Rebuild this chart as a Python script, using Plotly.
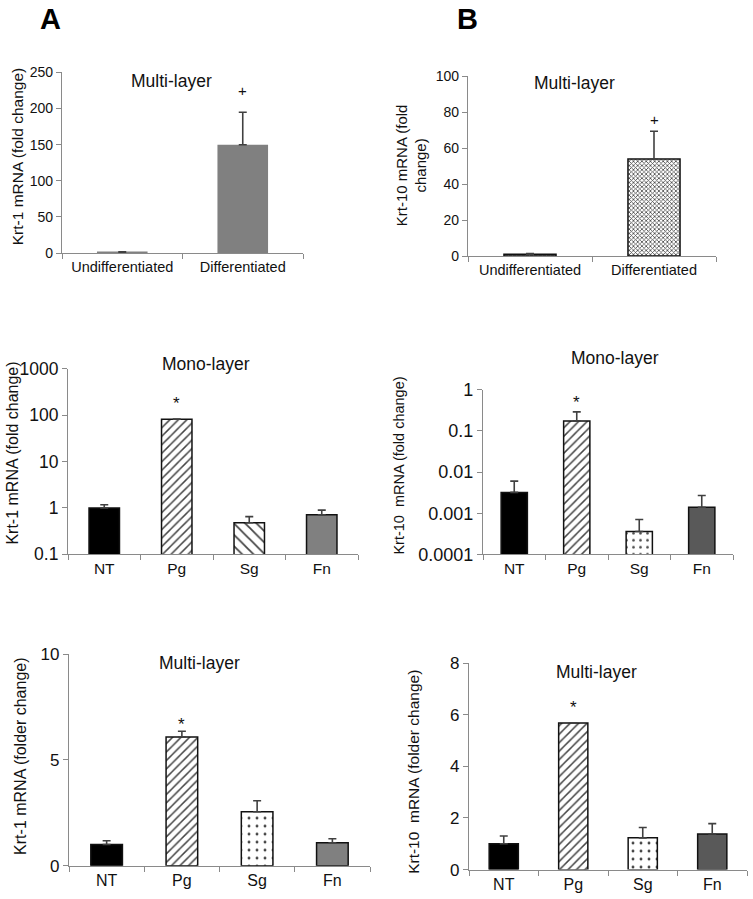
import math
import plotly.graph_objects as go

W, H = 753, 899

# ---------------- data ----------------
top_cats = ["Undifferentiated", "Differentiated"]
krt1_top = [1.0, 150]
krt1_top_err = [0.8, 45]
krt10_top = [1.0, 54]
krt10_top_err = [0.4, 15.5]

treat_cats = ["NT", "Pg", "Sg", "Fn"]
krt1_mono = [1.0, 82, 0.48, 0.71]
krt1_mono_err = [0.17, 0, 0.17, 0.19]
krt10_mono = [0.0032, 0.175, 0.00036, 0.0014]
krt10_mono_err = [0.0028, 0.115, 0.00034, 0.0013]
krt1_multi = [1.0, 6.08, 2.55, 1.08]
krt1_multi_err = [0.18, 0.27, 0.52, 0.19]
krt10_multi = [1.0, 5.68, 1.23, 1.38]
krt10_multi_err = [0.3, 0, 0.4, 0.4]

# significance marks: (panel, category, y value, symbol)
sig_marks = [
    (1, "Differentiated", 225, "+"),
    (2, "Differentiated", 76, "+"),
    (3, "Pg", 220, "*"),
    (4, "Pg", 0.6, "*"),
    (5, "Pg", 6.84, "*"),
    (6, "Pg", 6.45, "*"),
]

FONT = "Arial, 'Liberation Sans', sans-serif"
AX = "#8a8a8a"
ERR = "#404040"

# vertical calibration of the rendered page (pixel in picture -> pixel in figure)
Y_OFF, Y_SCALE = 8.4, 0.98


def py(t):
    return (t - Y_OFF) / Y_SCALE


def dom(x0, x1, y0, y1):
    return [x0 / W, x1 / W], [1 - py(y1) / H, 1 - py(y0) / H]


panels = {
    1: dict(box=(62, 303, 71, 252), yrange=[0, 250], ytype="linear",
            tickvals=[0, 50, 100, 150, 200, 250], ticktext=None, yfs=14, xfs=14.5),
    2: dict(box=(468, 716, 75, 255), yrange=[0, 100], ytype="linear",
            tickvals=[0, 20, 40, 60, 80, 100], ticktext=None, yfs=14, xfs=14.5),
    3: dict(box=(68, 358, 368, 554), yrange=[-1, 3], ytype="log",
            tickvals=[0.1, 1, 10, 100, 1000], ticktext=["0.1", "1", "10", "100", "1000"], yfs=17.5, xfs=15.5),
    4: dict(box=(483, 733, 389, 554), yrange=[-4, 0], ytype="log",
            tickvals=[0.0001, 0.001, 0.01, 0.1, 1], ticktext=["0.0001", "0.001", "0.01", "0.1", "1"], yfs=18, xfs=15.5),
    5: dict(box=(69, 370, 654, 866), yrange=[0, 10], ytype="linear",
            tickvals=[0, 5, 10], ticktext=None, yfs=17, xfs=16),
    6: dict(box=(469, 747, 663, 870), yrange=[0, 8], ytype="linear",
            tickvals=[0, 2, 4, 6, 8], ticktext=None, yfs=17, xfs=16),
}

fig = go.Figure()

BAR_W = 0.42


def add_bars(i, cats, vals, errs, colors, shapes, fgs, sizes, sols, line_w, line_c):
    fig.add_trace(go.Bar(
        x=cats, y=vals, width=BAR_W,
        xaxis=f"x{i}", yaxis=f"y{i}",
        marker=dict(
            color=colors,
            line=dict(color=line_c, width=line_w),
            pattern=dict(shape=shapes, fgcolor=fgs, fgopacity=1,
                         size=sizes, solidity=sols, fillmode="overlay"),
        ),
        error_y=dict(type="data", symmetric=False, array=errs,
                     arrayminus=[0] * len(errs), color=ERR, thickness=1.6, width=4),
        showlegend=False,
    ))


# Panel 1
add_bars(1, top_cats, krt1_top, krt1_top_err,
         ["#808080", "#808080"], ["", ""], ["#808080", "#808080"], [6, 6], [0.2, 0.2], 0, "#808080")
# Panel 2
add_bars(2, top_cats, krt10_top, krt10_top_err,
         ["white", "white"], ["x", "x"], ["#111", "#111"], [3, 3], [0.45, 0.45], 1.5, "#111")
# Panel 3
add_bars(3, treat_cats, krt1_mono, krt1_mono_err,
         ["black", "white", "white", "#808080"], ["", "/", "\\", ""],
         ["black", "#111", "#111", "#808080"], [6, 6, 8, 6], [0.2, 0.25, 0.22, 0.2], 1.5, "#111")
# Panel 4
add_bars(4, treat_cats, krt10_mono, krt10_mono_err,
         ["black", "white", "white", "#595959"], ["", "/", ".", ""],
         ["black", "#111", "#111", "#595959"], [6, 6, 7, 6], [0.2, 0.25, 0.12, 0.2], 1.5, "#111")
# Panel 5
add_bars(5, treat_cats, krt1_multi, krt1_multi_err,
         ["black", "white", "white", "#808080"], ["", "/", ".", ""],
         ["black", "#111", "#111", "#808080"], [6, 6, 8, 6], [0.2, 0.25, 0.1, 0.2], 1.5, "#111")
# Panel 6
add_bars(6, treat_cats, krt10_multi, krt10_multi_err,
         ["black", "white", "white", "#595959"], ["", "/", ".", ""],
         ["black", "#111", "#111", "#595959"], [6, 6, 8, 6], [0.2, 0.25, 0.1, 0.2], 1.5, "#111")

layout = dict(
    width=W, height=H, margin=dict(l=0, r=0, t=0, b=0),
    plot_bgcolor="white", paper_bgcolor="white",
    font=dict(family=FONT, color="#111"),
    bargap=0.58,
)

for i, p in panels.items():
    x0, x1, y0, y1 = p["box"]
    xd, yd = dom(x0, x1, y0, y1)
    layout[f"xaxis{i}"] = dict(
        domain=xd, anchor=f"y{i}", type="category",
        showline=True, linecolor=AX, linewidth=1.2,
        ticks="outside", tickson="boundaries", ticklen=5, tickcolor=AX, tickwidth=1.2,
        showgrid=False, zeroline=False,
        tickfont=dict(size=p["xfs"], color="#111", family=FONT),
    )
    ya = dict(
        domain=yd, anchor=f"x{i}", type=p["ytype"], range=p["yrange"],
        showline=True, linecolor=AX, linewidth=1.2,
        ticks="outside", ticklen=5, tickcolor=AX, tickwidth=1.2,
        showgrid=False, zeroline=False, tickvals=p["tickvals"],
        tickfont=dict(size=p["yfs"], color="#111", family=FONT),
    )
    if p["ticktext"]:
        ya["ticktext"] = p["ticktext"]
    layout[f"yaxis{i}"] = ya

fig.update_layout(**layout)

ann = []
# panel letters
for t, cx in (("A", 50), ("B", 467)):
    ann.append(dict(text=f"<b>{t}</b>", x=cx / W, y=1 - py(17) / H, xref="paper", yref="paper",
                    xanchor="center", yanchor="middle",
                    showarrow=False, font=dict(size=29, family=FONT, color="black")))

# panel titles
titles = [("Multi-layer", 171, 80), ("Multi-layer", 574, 82), ("Mono-layer", 206, 363),
          ("Mono-layer", 615, 357), ("Multi-layer", 199, 663), ("Multi-layer", 596, 672)]
for t, cx, cy in titles:
    ann.append(dict(text=t, x=cx / W, y=1 - py(cy) / H, xref="paper", yref="paper",
                    xanchor="center", yanchor="middle",
                    showarrow=False, font=dict(size=17.5, family=FONT, color="#111")))

# y-axis titles
ytitles = [("Krt-1 mRNA (fold change)", 17, 156, 15.5),
           ("Krt-10 mRNA (fold<br>change)", 411, 164, 15),
           ("Krt-1 mRNA (fold change)", 13, 453, 16),
           ("Krt-10  mRNA (fold change)", 399, 465, 14.5),
           ("Krt-1 mRNA (folder change)", 21, 757, 16),
           ("Krt-10  mRNA (folder change)", 414, 772, 15.5)]
for t, cx, cy, fs in ytitles:
    ann.append(dict(text=t, x=cx / W, y=1 - py(cy) / H, xref="paper", yref="paper",
                    xanchor="center", yanchor="middle",
                    showarrow=False, textangle=-90, font=dict(size=fs, family=FONT, color="#111")))

# significance marks
for i, cat, yv, sym in sig_marks:
    yy = math.log10(yv) if panels[i]["ytype"] == "log" else yv
    ann.append(dict(text=sym, x=cat, y=yy, xref=f"x{i}", yref=f"y{i}",
                    showarrow=False, xanchor="center", yanchor="middle",
                    yshift=-4 if sym == "*" else 0,
                    font=dict(size=17 if sym == "*" else 15, family=FONT, color="#111")))

fig.update_layout(annotations=ann)

post = (
    "document.documentElement.style.margin='0';"
    "document.body.style.margin='0';"
    "document.body.style.overflow='hidden';"
    "document.documentElement.style.overflow='hidden';"
    "var gd=document.getElementById('{plot_id}');"
    "gd.style.position='fixed';gd.style.top='0px';gd.style.left='0px';"
)
fig.write_html("out.html", config={"displayModeBar": False}, post_script=post)
